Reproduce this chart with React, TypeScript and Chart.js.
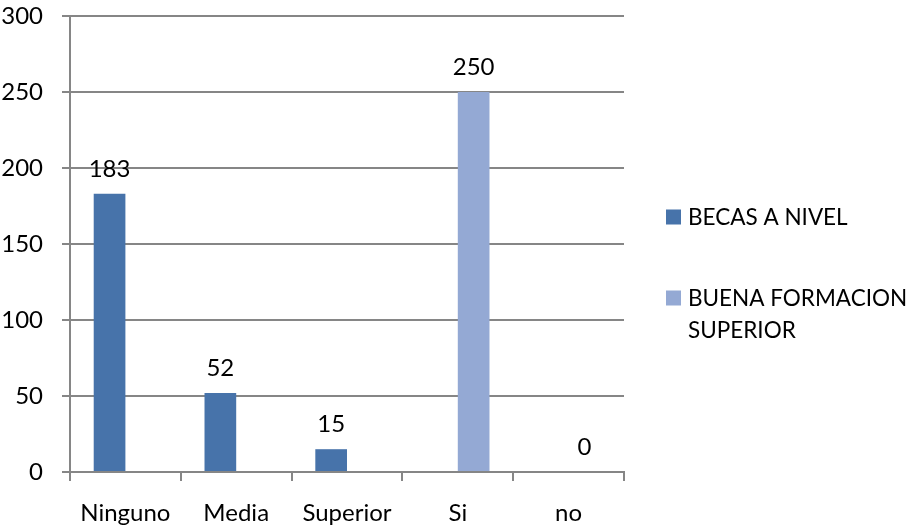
import React, { useEffect, useRef } from "react";
import { Chart, registerables } from "chart.js";

Chart.register(...registerables);

const categories = ["Ninguno", "Media", "Superior", "Si", "no"];
const seriesNames = ["BECAS A NIVEL", "BUENA FORMACION SUPERIOR"];
const becasValues = [183, 52, 15, null, null];
const buenaValues = [null, null, null, 250, 0];
const yTicks = [0, 50, 100, 150, 200, 250, 300];

const DARK = "#4773AA";
const LIGHT = "#94A9D4";
const GRID = "#868686";
const FONT = "Lato";
const FS = 24;
const LEGEND_FS = 22.5;

const labelPlugin = {
  id: "valueLabels",
  afterDatasetsDraw(chart: any) {
    const ctx = chart.ctx;
    ctx.save();
    ctx.font = `${FS}px ${FONT}`;
    ctx.fillStyle = "#000";
    ctx.textAlign = "center";
    ctx.textBaseline = "alphabetic";
    chart.data.datasets.forEach((ds: any, i: number) => {
      const meta = chart.getDatasetMeta(i);
      meta.data.forEach((bar: any, j: number) => {
        const v = ds.data[j];
        if (v === null || v === undefined) return;
        ctx.fillText(String(v), bar.x, bar.y - 17);
      });
    });
    ctx.restore();
  },
};

const legendPlugin = {
  id: "customLegend",
  afterDraw(chart: any) {
    const ctx = chart.ctx;
    ctx.save();
    ctx.font = `${LEGEND_FS}px ${FONT}`;
    ctx.textAlign = "left";
    ctx.textBaseline = "middle";
    const items = [
      { color: DARK, lines: [seriesNames[0]], y: 217 },
      { color: LIGHT, lines: ["BUENA FORMACION", "SUPERIOR"], y: 298 },
    ];
    items.forEach((it) => {
      ctx.fillStyle = it.color;
      ctx.fillRect(666, it.y - 7.5, 15, 15);
      ctx.fillStyle = "#000";
      it.lines.forEach((ln, k) => {
        ctx.fillText(ln, 688, it.y + 1 + k * 32);
      });
    });
    ctx.restore();
  },
};

export default function App() {
  const ref = useRef<HTMLCanvasElement>(null);
  useEffect(() => {
    if (!ref.current) return;
    const chart = new Chart(ref.current, {
      type: "bar",
      data: {
        labels: categories,
        datasets: [
          {
            label: seriesNames[0],
            data: becasValues,
            backgroundColor: DARK,
            categoryPercentage: 0.572,
            barPercentage: 1,
          },
          {
            label: seriesNames[1],
            data: buenaValues,
            backgroundColor: LIGHT,
            categoryPercentage: 0.572,
            barPercentage: 1,
          },
        ] as any,
      },
      options: {
        animation: false,
        responsive: false,
        maintainAspectRatio: false,
        layout: { padding: { top: 16, right: 284, left: 0, bottom: 0 } },
        plugins: {
          legend: { display: false },
          tooltip: { enabled: false },
        },
        scales: {
          x: {
            grid: {
              offset: true,
              drawOnChartArea: false,
              drawTicks: true,
              tickLength: 9,
              color: GRID,
              lineWidth: 2,
            },
            border: { color: GRID, width: 2 },
            ticks: {
              color: "#000",
              font: { family: FONT, size: FS },
              padding: 18,
              maxRotation: 0,
              autoSkip: false,
            },
            afterFit(scale: any) {
              scale.height = 55;
              scale.paddingLeft = 0;
              scale.paddingRight = 0;
            },
          },
          y: {
            min: 0,
            max: 300,
            afterBuildTicks(scale: any) {
              scale.ticks = yTicks.map((v) => ({ value: v }));
            },
            grid: {
              color: GRID,
              lineWidth: 2,
              tickLength: 8,
            },
            border: { color: GRID, width: 2 },
            ticks: {
              color: "#000",
              font: { family: FONT, size: FS },
              padding: 19,
            },
            afterFit(scale: any) {
              scale.width = 70;
              scale.paddingTop = 0;
              scale.paddingBottom = 0;
            },
          },
        },
      },
      plugins: [labelPlugin, legendPlugin],
    });
    return () => chart.destroy();
  }, []);
  return (
    <div style={{ position: "fixed", left: 0, top: 0, width: 908, height: 527, background: "#fff" }}>
      <canvas ref={ref} width={908} height={527} style={{ width: 908, height: 527 }} />
    </div>
  );
}
